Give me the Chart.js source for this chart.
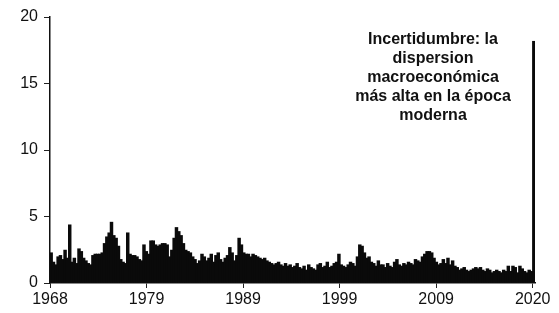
<!DOCTYPE html>
<html>
<head>
<meta charset="utf-8">
<script src="https://cdn.jsdelivr.net/npm/chart.js@4"></script>
<style>
  body { margin: 0; background: #fff; }
  #wrap { width: 559px; height: 313px; position: relative; }
</style>
</head>
<body>
<div id="wrap"><canvas id="chart"></canvas></div>
<script>
// ---------------- DATA ----------------
// quarterly dispersion, 1968Q1 .. 2020Q1
const START_YEAR = 1968;
const values = [
  2.3, 1.6, 1.4, 2.0, 2.1, 1.8, 2.5, 1.9, 4.4, 1.6, 1.9, 1.5,   // 1968-70
  2.6, 2.4, 1.9, 1.7, 1.5, 1.4, 2.1, 2.2, 2.2, 2.2, 2.3, 3.0,   // 1971-73
  3.5, 3.8, 4.6, 3.6, 3.4, 2.8, 1.8, 1.6, 1.5, 3.8, 2.2, 2.1,   // 1974-76
  2.1, 2.0, 1.8, 1.7, 2.9, 2.4, 2.2, 3.2, 3.2, 2.9, 2.8, 2.9,   // 1977-79
  3.0, 3.0, 2.9, 2.0, 2.5, 3.4, 4.2, 3.9, 3.6, 3.0, 2.5, 2.4,   // 1980-82
  2.3, 2.0, 1.8, 1.5, 1.7, 2.2, 2.0, 1.7, 1.9, 2.2, 1.6, 2.1,   // 1983-85
  2.3, 1.8, 1.6, 1.9, 2.1, 2.7, 2.3, 1.7, 2.1, 3.4, 2.9, 2.3,   // 1986-88
  2.2, 2.2, 2.0, 2.2, 2.1, 2.0, 1.9, 1.8, 1.9, 1.7, 1.6, 1.5,   // 1989-91
  1.4, 1.5, 1.6, 1.4, 1.3, 1.5, 1.3, 1.4, 1.2, 1.3, 1.5, 1.2,   // 1992-94
  1.1, 1.3, 1.0, 1.4, 1.2, 1.1, 1.0, 1.4, 1.5, 1.2, 1.3, 1.6,   // 1995-97
  1.2, 1.3, 1.5, 1.6, 2.2, 1.4, 1.3, 1.2, 1.4, 1.6, 1.5, 1.3,   // 1998-00
  2.0, 2.9, 2.8, 2.3, 1.9, 2.0, 1.6, 1.5, 1.3, 1.7, 1.4, 1.4,   // 2001-03
  1.2, 1.5, 1.3, 1.2, 1.6, 1.8, 1.4, 1.3, 1.5, 1.4, 1.6, 1.5,   // 2004-06
  1.4, 1.8, 1.7, 1.6, 2.0, 2.2, 2.4, 2.4, 2.3, 1.9, 1.6, 1.4,   // 2007-09
  1.5, 1.8, 1.5, 1.9, 1.4, 1.7, 1.3, 1.2, 1.0, 1.1, 1.2, 1.0,   // 2010-12
  0.9, 1.0, 1.1, 1.2, 1.1, 1.2, 1.0, 0.9, 1.1, 1.0, 0.8, 0.9,   // 2013-15
  1.0, 0.9, 0.8, 1.0, 0.9, 1.3, 0.9, 1.3, 1.2, 0.8, 1.3, 1.1,   // 2016-18
  0.9, 0.8, 1.0, 0.9,                                           // 2019
  18.2                                                          // 2020Q1
];
const TICK_LABELS = ["1968", "1979", "1989", "1999", "2009", "2020"];
const Y_TICKS = [0, 5, 10, 15, 20];
const NOTE_LINES = [
  "Incertidumbre: la",
  "dispersion",
  "macroeconómica",
  "más alta en la época",
  "moderna",
];

// ---------------- SCALE SETUP ----------------
const X_MIN = START_YEAR - 0.125;
const X_MAX = START_YEAR + (values.length - 1) / 4 + 0.125;
const X_STEP = (X_MAX - X_MIN - 0.25) / (TICK_LABELS.length - 1);

const points = values.map((v, i) => ({ x: START_YEAR + i / 4, y: v }));

// ---------------- NOTE PLUGIN ----------------
const notePlugin = {
  id: "note",
  afterDraw(chart) {
    const ctx = chart.ctx;
    ctx.save();
    ctx.fillStyle = "#111";
    ctx.font = "bold 16px 'Liberation Sans', Arial, sans-serif";
    ctx.textAlign = "center";
    ctx.textBaseline = "middle";
    NOTE_LINES.forEach((line, i) => {
      ctx.fillText(line, 433, 40 + i * 19);
    });
    ctx.restore();
  },
};

// ---------------- CHART ----------------
const tickFont = { family: "'Liberation Sans', Arial, sans-serif", size: 16 };

new Chart(document.getElementById("chart"), {
  type: "bar",
  data: {
    datasets: [
      {
        data: points,
        backgroundColor: "#0a0a0a",
        borderWidth: 0,
        barPercentage: 1.5,
        categoryPercentage: 1,
      },
    ],
  },
  options: {
    responsive: true,
    maintainAspectRatio: false,
    animation: false,
    layout: { padding: { top: 17, right: 24, left: 0, bottom: 0 } },
    plugins: {
      legend: { display: false },
      tooltip: { enabled: false },
    },
    scales: {
      x: {
        type: "linear",
        offset: false,
        min: X_MIN,
        max: X_MAX,
        afterBuildTicks(scale) {
          scale.ticks = TICK_LABELS.map((_, k) => ({ value: X_MIN + k * X_STEP }));
        },
        afterFit(scale) {
          scale.height = 30;
        },
        ticks: {
          autoSkip: false,
          maxRotation: 0,
          padding: 2,
          color: "#111",
          font: tickFont,
          callback: (v, idx) => TICK_LABELS[idx],
        },
        grid: { offset: false, drawOnChartArea: false, drawTicks: true, tickLength: 5, color: "#222" },
        border: { display: true, color: "#111", width: 1.5 },
      },
      y: {
        min: 0,
        max: 20,
        afterBuildTicks(scale) {
          scale.ticks = Y_TICKS.map((v) => ({ value: v }));
        },
        afterFit(scale) {
          scale.width = 50;
        },
        ticks: {
          padding: 6,
          color: "#111",
          font: tickFont,
        },
        grid: { drawOnChartArea: false, drawTicks: true, tickLength: 6, color: "#222" },
        border: { display: true, color: "#111", width: 1.5 },
      },
    },
  },
  plugins: [notePlugin],
});
</script>
</body>
</html>
